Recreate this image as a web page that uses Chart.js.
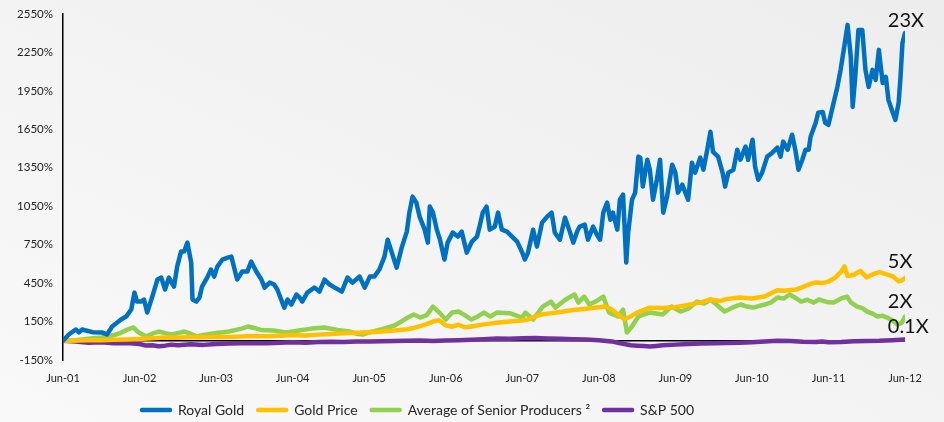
<!DOCTYPE html>
<html>
<head>
<meta charset="utf-8">
<script src="https://cdn.jsdelivr.net/npm/chart.js@4.4.1/dist/chart.umd.min.js"></script>
<style>
  html, body { margin: 0; padding: 0; }
  body { background: linear-gradient(to top right, #f9f9f9, #ededed); }
  #wrap { width: 944px; height: 422px; position: relative; }
</style>
</head>
<body>
<div id="wrap"><canvas id="chart"></canvas></div>
<script>
// months since Jun-01, value in % change
const rgMonths = [0,0.9,2.0,2.5,3.0,4.6,6.1,6.9,7.7,9.1,9.9,10.7,11.2,11.6,12.3,12.7,13.2,14.0,14.8,15.4,16.0,16.6,17.4,17.9,18.5,19.0,19.5,20.1,20.3,20.9,21.4,21.8,22.6,23.2,23.7,24.2,25.0,25.8,26.4,26.9,27.3,28.1,28.9,29.5,30.3,31.1,31.6,32.4,33.1,33.6,34.2,34.7,35.2,35.8,36.6,37.1,37.5,38.3,39.4,40.2,41.0,41.8,42.6,43.7,44.6,45.4,46.5,47.3,48.1,48.8,49.6,50.4,50.9,51.5,52.3,53.1,53.9,54.3,54.8,55.4,55.9,56.7,57.2,57.5,58.0,58.6,59.1,59.8,60.3,61.1,61.9,62.5,63.3,64.1,64.9,65.3,65.8,66.4,66.9,67.7,68.2,68.8,69.6,70.4,71.2,72.0,72.4,72.9,73.7,74.3,75.1,75.9,76.6,77.1,77.9,78.7,79.5,80.0,80.6,81.0,81.8,82.3,83.1,83.7,84.2,84.7,85.3,85.8,86.2,86.9,87.3,87.8,88.3,88.6,89.2,89.7,90.2,90.5,90.9,91.6,92.0,92.5,93.1,93.6,94.1,94.7,95.5,96.0,96.4,97.1,97.5,98.0,98.6,99.1,99.9,100.4,101.0,101.5,101.9,102.7,103.4,103.8,104.3,105.1,105.7,106.2,107.0,107.4,108.1,108.5,109.0,109.6,110.4,111.2,112.0,112.5,112.9,113.6,114.3,114.8,115.3,115.9,116.4,116.9,117.2,118.0,118.4,119.1,119.5,120.0,120.8,121.4,121.9,122.4,123.0,123.5,123.8,124.2,124.7,125.3,125.8,126.3,126.9,127.4,127.9,128.5,129.0,129.4,130.1,130.5,131.0,131.3,131.6,132.0];
const rgValues = [0,49,88,65,88,67,65,49,111,166,189,244,376,306,306,322,221,345,478,493,400,493,423,579,696,696,766,610,322,306,337,423,493,556,501,579,634,649,657,556,478,540,540,618,540,478,415,454,439,400,322,259,322,283,361,337,306,376,415,384,478,439,415,384,493,454,501,415,501,501,556,657,789,696,571,727,852,1000,1125,1078,969,867,766,1047,1000,867,789,634,766,844,813,852,688,774,813,891,1000,1047,867,891,1000,867,852,813,774,688,634,688,867,735,922,969,1000,844,789,961,844,766,852,891,906,789,891,828,789,1000,1078,945,1000,867,1101,1140,610,844,1101,1156,1437,1429,1203,1413,1335,1101,1257,1413,1000,1125,1374,1312,1156,1218,1164,1101,1390,1312,1429,1335,1491,1631,1475,1437,1312,1203,1312,1335,1491,1413,1515,1413,1569,1358,1257,1312,1437,1468,1507,1437,1554,1491,1608,1491,1335,1413,1491,1491,1592,1701,1780,1786,1700,1685,1856,1981,2114,2270,2465,2215,1825,2059,2426,2426,2114,1981,2114,2036,2270,2012,2059,1880,1778,1724,1856,2059,2324,2402];

const goldMonths = [0,2,4,6,8,10,12,14,16,18,20,22,24,26,28,30,32,34,36,38,40,42,44,46,48,50,52,54,55,56,57,58,59,60,61,62,63,64,66,68,70,72,73,74,75,76,78,80,82,84,85,86,87,88,89,90,92,94,96,98,100,101.5,103,104,106,108,110,111,112,113,115,116,117,118,119,120,121,122,122.5,123,124,125,126,127,128,129,130,131,131.5,132];
const goldValues = [0,2,5,4,8,10,14,20,25,23,30,28,32,30,34,38,36,40,45,42,48,52,58,62,66,72,80,90,100,115,130,150,160,120,110,125,105,112,128,140,150,158,168,190,205,212,225,240,250,262,268,245,205,168,190,220,258,255,262,280,300,322,310,325,337,330,345,370,395,390,400,420,440,455,450,462,490,540,580,505,515,545,495,520,535,520,505,465,470,490];

const seniorMonths = [0,2,4,6,7,8,9,10,11,12,13,14,15,16,17,18,19,20,21,22,24,26,28,29,30,31,33,35,37,39,41,43,45,46,47,48,50,52,53,54,55,56,57,58,59,60,61,62,63,64,65,66,67,68,70,72,72.5,73.7,75.2,76.5,77.2,78.8,80.2,80.8,81.7,82.5,83.5,84.7,85.6,87,87.8,88.4,89.2,90.2,91,92,94,95.4,96.8,98,99.4,100.5,101.5,102.5,103.7,105,106.2,107,108.2,110,111,112,113,113.9,115,115.7,116.7,117.7,118.5,119.3,120,120.8,122,122.9,123.5,124.5,125.3,126.1,127,127.7,128.5,129.2,130,130.8,131.5,132];
const seniorValues = [0,5,15,25,33,45,60,85,104,60,35,55,72,60,49,60,72,55,33,45,60,72,95,111,100,85,80,65,80,95,104,85,72,55,49,65,90,119,150,180,205,181,200,267,220,166,220,228,200,166,190,220,189,220,215,181,220,166,267,306,259,322,361,298,345,283,306,345,220,189,244,65,111,189,205,220,205,267,228,250,306,290,322,280,228,260,283,270,259,283,300,337,330,361,330,306,320,298,322,310,300,298,330,345,300,267,255,228,210,189,195,181,160,127,140,189];

const spMonths = [0,2,4,6,8,10,12,13,14,15,16,17,18,20,22,24,26,28,30,32,34,36,38,40,42,44,46,48,50,52,54,56,58,60,62,64,66,68,70,72,74,76,78,80,82,84,86,87,88,89,90,91,92,93,94,96,98,100,102,104,106,108,110,112,114,116,118,119,120,122,124,126,128,130,132];
const spValues = [0,-5,-15,-12,-20,-18,-25,-37,-35,-42,-38,-30,-35,-28,-32,-25,-22,-20,-18,-20,-15,-12,-15,-10,-8,-10,-6,-5,-3,-2,0,2,-2,3,5,8,12,18,15,20,22,18,15,12,10,5,-5,-15,-25,-35,-38,-40,-45,-40,-35,-30,-25,-22,-20,-18,-15,-12,-5,0,-2,-8,-10,-5,-12,-10,-4,-2,0,5,10];

const seriesNames = ['Royal Gold', 'Gold Price', 'Average of Senior Producers \u00b2', 'S&P 500'];
const seriesColors = ['#0070c0', '#ffc000', '#92d050', '#7030a0'];
const endLabels = ['23X', '5X', '2X', '0.1X'];
const endLabelValues = [2500, 620, 306, 111];

const FONT = 'Lato, "Open Sans", sans-serif';

const toPoints = (months, values) => months.map((m, i) => ({ x: m, y: values[i] }));

// black line at 0%
const zeroLine = {
  id: 'zeroLine',
  beforeDatasetsDraw(chart) {
    const { ctx, chartArea, scales } = chart;
    const y = scales.y.getPixelForValue(0);
    ctx.save();
    ctx.strokeStyle = '#000';
    ctx.lineWidth = 1.5;
    ctx.beginPath();
    ctx.moveTo(chartArea.left, y);
    ctx.lineTo(chartArea.right, y);
    ctx.stroke();
    ctx.restore();
  }
};

// multiple labels at the right end
const endText = {
  id: 'endText',
  afterDatasetsDraw(chart) {
    const { ctx, scales } = chart;
    ctx.save();
    ctx.font = '20px ' + FONT;
    ctx.fillStyle = '#111';
    ctx.textBaseline = 'middle';
    ctx.textAlign = 'left';
    endLabels.forEach((t, i) => {
      ctx.fillText(t, scales.x.getPixelForValue(129.3), scales.y.getPixelForValue(endLabelValues[i]));
    });
    ctx.restore();
  }
};

// legend row under the axis, sits left of centre like the original
const lineLegend = {
  id: 'lineLegend',
  afterDraw(chart) {
    const { ctx } = chart;
    const y = 410;
    let x = 140;
    ctx.save();
    ctx.font = '14px ' + FONT;
    ctx.textBaseline = 'middle';
    ctx.lineCap = 'round';
    ctx.lineWidth = 4.5;
    seriesNames.forEach((name, i) => {
      ctx.strokeStyle = seriesColors[i];
      ctx.beginPath();
      ctx.moveTo(x + 2, y);
      ctx.lineTo(x + 30, y);
      ctx.stroke();
      x += 38;
      ctx.fillStyle = '#262626';
      ctx.fillText(name, x, y);
      x += ctx.measureText(name).width + 12;
    });
    ctx.restore();
  }
};

const line = (label, data, color) => ({
  label,
  data,
  borderColor: color,
  backgroundColor: color,
  borderWidth: 4.5,
  pointRadius: 0,
  tension: 0,
  borderJoinStyle: 'round',
  borderCapStyle: 'round'
});

new Chart(document.getElementById('chart'), {
  type: 'line',
  data: {
    datasets: [
      line(seriesNames[0], toPoints(rgMonths, rgValues), seriesColors[0]),
      line(seriesNames[1], toPoints(goldMonths, goldValues), seriesColors[1]),
      line(seriesNames[2], toPoints(seniorMonths, seniorValues), seriesColors[2]),
      line(seriesNames[3], toPoints(spMonths, spValues), seriesColors[3])
    ]
  },
  options: {
    responsive: true,
    maintainAspectRatio: false,
    animation: false,
    layout: { padding: { top: 14, right: 39, left: 0, bottom: 32 } },
    plugins: {
      legend: { display: false },
      tooltip: { enabled: false }
    },
    scales: {
      x: {
        type: 'linear',
        min: 0,
        max: 132,
        afterFit: s => { s.height = 30; },
        grid: { display: false, drawTicks: false },
        border: { display: false },
        ticks: {
          stepSize: 12,
          padding: 12,
          color: '#222',
          font: { family: FONT, size: 11 },
          callback: v => 'Jun-' + String(1 + v / 12).padStart(2, '0')
        }
      },
      y: {
        min: -150,
        max: 2550,
        afterFit: s => { s.width = 63; s.paddingTop = 0; s.paddingBottom = 0; },
        grid: { display: false, drawTicks: false },
        border: { display: true, color: '#000', width: 1.5 },
        ticks: {
          stepSize: 300,
          padding: 10,
          color: '#222',
          font: { family: FONT, size: 11.5 },
          callback: v => v + '%'
        }
      }
    }
  },
  plugins: [zeroLine, endText, lineLegend]
});
</script>
</body>
</html>
